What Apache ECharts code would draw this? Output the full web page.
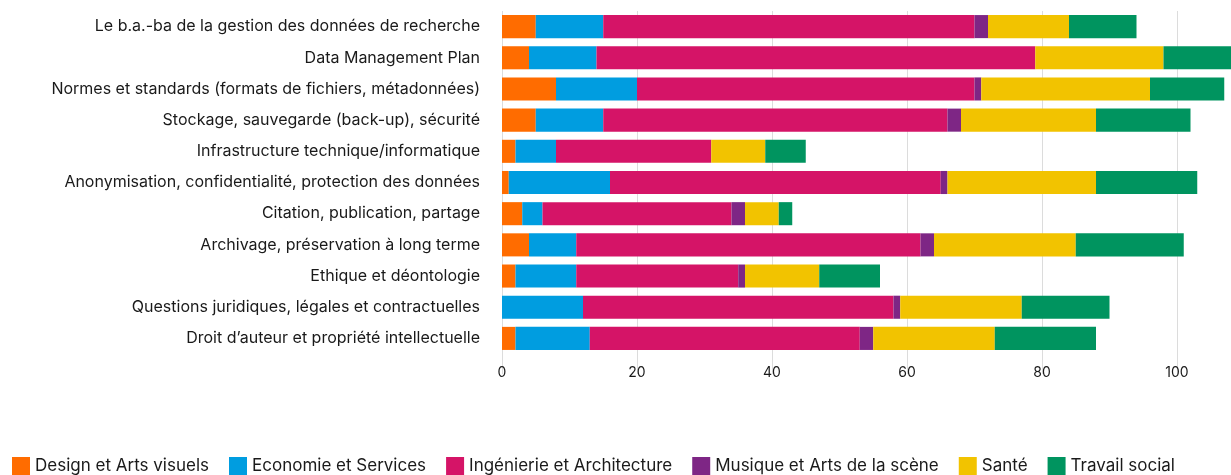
<!DOCTYPE html>
<html>
<head>
<meta charset="utf-8">
<script src="https://cdn.jsdelivr.net/npm/echarts@6/dist/echarts.min.js"></script>
<style>
  html, body { margin: 0; padding: 0; background: #fff; }
  #chart { width: 1231px; height: 475px; }
</style>
</head>
<body>
<div id="chart"></div>
<script>
// categories, top to bottom
const categories = [
  'Le b.a.-ba de la gestion des données de recherche',
  'Data Management Plan',
  'Normes et standards (formats de fichiers, métadonnées)',
  'Stockage, sauvegarde (back-up), sécurité',
  'Infrastructure technique/informatique',
  'Anonymisation, confidentialité, protection des données',
  'Citation, publication, partage',
  'Archivage, préservation à long terme',
  'Ethique et déontologie',
  'Questions juridiques, légales et contractuelles',
  'Droit d\u2019auteur et propriété intellectuelle'
]

const seriesNames = [
  'Design et Arts visuels',
  'Economie et Services',
  'Ingénierie et Architecture',
  'Musique et Arts de la scène',
  'Santé',
  'Travail social'
]

const design = [5, 4, 8, 5, 2, 1, 3, 4, 2, 0, 2]
const economie = [10, 10, 12, 10, 6, 15, 3, 7, 9, 12, 11]
const ingenierie = [55, 65, 50, 51, 23, 49, 28, 51, 24, 46, 40]
const musique = [2, 0, 1, 2, 0, 1, 2, 2, 1, 1, 2]
const sante = [12, 19, 25, 20, 8, 22, 5, 21, 11, 18, 18]
const travail = [10, 10, 11, 14, 6, 15, 2, 16, 9, 13, 15]

const xTicks = [0, 20, 40, 60, 80, 100]

const colors = ['#ff6c00', '#009de0', '#d51467', '#7e2685', '#f2c300', '#00945f']
const values = [design, economie, ingenierie, musique, sante, travail]

const font = 'Inter, "Liberation Sans", sans-serif'

const chart = echarts.init(document.getElementById('chart'))
chart.setOption({
  animation: false,
  color: colors,
  textStyle: { fontFamily: font },
  grid: {
    left: 502,
    right: 0,
    top: 11,
    bottom: 121,
    containLabel: false
  },
  legend: {
    left: 7,
    top: 452,
    itemWidth: 18,
    itemHeight: 18,
    itemGap: 20,
    icon: 'rect',
    textStyle: { fontSize: 17, color: '#1a1a1a', fontFamily: font },
    data: seriesNames
  },
  xAxis: {
    type: 'value',
    min: 0,
    max: 108,
    interval: 20,
    axisLine: { show: false },
    axisTick: {
      show: true,
      length: 20,
      lineStyle: { color: '#dcdcdc', width: 1 }
    },
    axisLabel: {
      color: '#1a1a1a',
      fontSize: 14,
      margin: 12,
      showMaxLabel: false,
      formatter: v => (xTicks.indexOf(v) >= 0 ? String(v) : '')
    },
    splitLine: { lineStyle: { color: '#dcdcdc', width: 1 } }
  },
  yAxis: {
    type: 'category',
    inverse: true,
    data: categories,
    axisLine: { show: false },
    axisTick: { show: false },
    axisLabel: { color: '#1a1a1a', fontSize: 16, margin: 22 }
  },
  series: seriesNames.map((name, i) => ({
    name: name,
    type: 'bar',
    stack: 'total',
    barCategoryGap: '26%',
    data: values[i],
    itemStyle: { color: colors[i] }
  }))
})
</script>
</body>
</html>
